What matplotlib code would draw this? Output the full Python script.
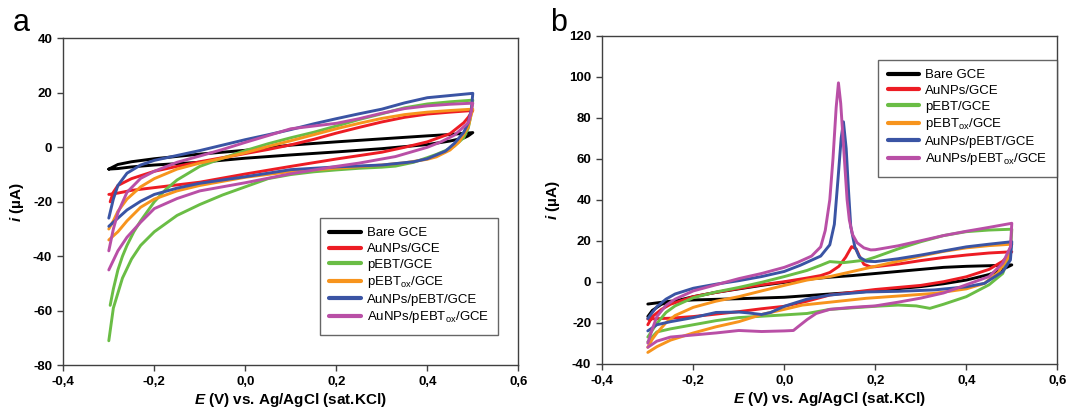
"""Cyclic voltammograms of the modified GCEs, panels a and b."""

import matplotlib.pyplot as plt
from matplotlib.ticker import FuncFormatter, MultipleLocator

plt.rcParams.update({
    "font.family": "Liberation Sans",
    "mathtext.fontset": "custom",
    "mathtext.rm": "Liberation Sans",
    "mathtext.it": "Liberation Sans:italic:bold",
    "mathtext.bf": "Liberation Sans:bold",
    "axes.linewidth": 1.0,
    "axes.edgecolor": "#404040",
})

BLACK, RED, GREEN, ORANGE, BLUE, MAGENTA = (
    "#000000", "#ED1C24", "#6ABD45", "#F7941D", "#3A54A4", "#B94FA6")

LABELS = ["Bare GCE", "AuNPs/GCE", "pEBT/GCE",
          "pEBT$_{\\mathregular{ox}}$/GCE", "AuNPs/pEBT/GCE",
          "AuNPs/pEBT$_{\\mathregular{ox}}$/GCE"]
COLORS = [BLACK, RED, GREEN, ORANGE, BLUE, MAGENTA]

# ---- panel a: forward scan (-0.3 -> 0.5 V) then reverse scan, E in V, i in uA
a_bare_E = [-0.3, -0.28, -0.25, -0.2, -0.1, 0, 0.1, 0.2, 0.3, 0.4, 0.45, 0.5,
            0.49, 0.48, 0.45, 0.4, 0.3, 0.2, 0.1, 0, -0.1, -0.2, -0.25, -0.28, -0.3]
a_bare_i = [-8.0, -6.3, -5.3, -4.2, -2.5, -1.1, 0.8, 2.0, 3.1, 4.2, 4.7, 5.4,
            4.2, 3.4, 2.3, 1.0, -0.5, -1.7, -2.8, -4.0, -5.5, -6.5, -7.2, -7.8, -8.0]

a_aunp_E = [-0.297, -0.29, -0.28, -0.25, -0.2, -0.15, -0.1, -0.05, 0, 0.05, 0.1,
            0.15, 0.2, 0.25, 0.3, 0.35, 0.4, 0.45, 0.5,
            0.49, 0.48, 0.45, 0.4, 0.35, 0.3, 0.2, 0.1, 0, -0.1, -0.2, -0.25,
            -0.28, -0.3]
a_aunp_i = [-20.0, -16.5, -14.0, -11.5, -8.8, -7.0, -5.3, -3.8, -2.3, -0.8, 0.9,
            2.9, 5.2, 7.3, 9.3, 11.0, 12.2, 12.9, 13.5,
            11.0, 9.0, 5.0, 2.0, 0.0, -1.8, -4.3, -7.0, -9.8, -12.8, -14.8, -15.8,
            -16.8, -17.3]

a_pebt_E = [-0.297, -0.29, -0.28, -0.27, -0.26, -0.245, -0.23, -0.2, -0.175,
            -0.15, -0.1, -0.05, 0, 0.05, 0.1, 0.15, 0.2, 0.25, 0.3, 0.35, 0.4,
            0.45, 0.5,
            0.495, 0.49, 0.48, 0.46, 0.44, 0.42, 0.4, 0.37, 0.33, 0.3, 0.25, 0.2,
            0.15, 0.1, 0.05, 0, -0.05, -0.1, -0.15, -0.2, -0.23, -0.25, -0.27,
            -0.29, -0.3]
a_pebt_i = [-58, -52, -45, -40, -36, -31, -27, -20, -15.5,
            -12, -7, -4, -1.2, 1.3, 3.5, 5.5, 7.8, 10.2, 12.3, 14.5, 15.9,
            16.7, 17.3,
            11, 7, 3.5, 0.5, -1.2, -2.6, -3.8, -5.5, -6.9, -7.3, -7.7, -8.3,
            -9.0, -10.0, -11.5, -14.5, -17.5, -21, -25, -31, -36, -41, -48,
            -59, -71]

a_pebtox_E = [-0.3, -0.29, -0.28, -0.26, -0.23, -0.2, -0.15, -0.1, -0.05, 0,
              0.05, 0.1, 0.15, 0.2, 0.25, 0.3, 0.35, 0.4, 0.45, 0.5,
              0.495, 0.49, 0.47, 0.45, 0.42, 0.4, 0.35, 0.3, 0.2, 0.1, 0, -0.05,
              -0.1, -0.15, -0.2, -0.23, -0.26, -0.28, -0.3]
a_pebtox_i = [-30, -27, -23.5, -19, -14.5, -11.5, -8, -5.8, -4, -2,
              0.3, 2.4, 4.6, 6.8, 8.8, 10.6, 12.0, 12.9, 13.5, 14.0,
              11, 7.5, 2.0, -1.0, -3.5, -4.4, -5.7, -6.5, -7.7, -8.9, -11.0, -12.5,
              -14.0, -16.0, -19.0, -22.0, -27.0, -31.0, -34.0]

a_aupebt_E = [-0.3, -0.29, -0.28, -0.26, -0.23, -0.2, -0.15, -0.1, -0.05, 0,
              0.05, 0.1, 0.15, 0.2, 0.25, 0.3, 0.35, 0.4, 0.45, 0.5,
              0.497, 0.49, 0.48, 0.46, 0.44, 0.4, 0.37, 0.3, 0.2, 0.1, 0, -0.05,
              -0.1, -0.15, -0.2, -0.23, -0.26, -0.28, -0.3]
a_aupebt_i = [-26, -19, -14, -9.5, -6.5, -4.8, -3, -1.2, 0.8, 2.8,
              4.6, 6.5, 8.6, 10.5, 12.3, 14.0, 16.3, 18.2, 19.0, 19.8,
              14, 9, 5.5, 1.5, -1.4, -4.2, -5.3, -6.5, -7.2, -8.2, -10.8, -12.0,
              -13.2, -15.0, -17.3, -19.8, -23.0, -26.0, -29.0]

a_aupebtox_E = [-0.3, -0.29, -0.28, -0.26, -0.23, -0.2, -0.15, -0.1, -0.05, 0,
                0.05, 0.1, 0.15, 0.2, 0.25, 0.3, 0.35, 0.4, 0.45, 0.5,
                0.495, 0.49, 0.46, 0.43, 0.4, 0.33, 0.25, 0.2, 0.1, 0, -0.05,
                -0.1, -0.15, -0.2, -0.23, -0.26, -0.28, -0.3]
a_aupebtox_i = [-38, -30, -24, -16.5, -11.4, -8.8, -5.5, -3.2, -0.8, 1.8,
                4.3, 6.8, 7.8, 8.8, 10.5, 12.5, 14.2, 15.2, 15.8, 16.2,
                12, 9, 4.5, 2, 0, -3.4, -5.8, -7, -9.7, -13, -14.5,
                -16, -18.8, -22.5, -27.5, -33, -38, -45]

# ---- panel b
b_bare_E = [-0.3, -0.29, -0.27, -0.23, -0.2, -0.15, -0.1, -0.05, 0, 0.05, 0.1,
            0.15, 0.2, 0.25, 0.3, 0.35, 0.4, 0.45, 0.5,
            0.48, 0.45, 0.4, 0.35, 0.3, 0.25, 0.2, 0.1, 0, -0.1, -0.2, -0.25, -0.3]
b_bare_i = [-17, -14, -11, -8.9, -7.3, -5.2, -3.5, -1.8, -0.3, 1.2, 2.2,
            3.0, 4.0, 5.0, 6.0, 7.0, 7.5, 7.8, 8.2,
            6.0, 3.5, 0.8, -1.0, -2.4, -3.4, -4.5, -6.0, -7.6, -8.3, -8.9, -9.5, -10.9]

b_aunp_E = [-0.3, -0.29, -0.27, -0.25, -0.2, -0.15, -0.1, -0.05, 0, 0.05, 0.08,
            0.1, 0.12, 0.135, 0.148, 0.158, 0.165, 0.175, 0.19, 0.2, 0.25, 0.3,
            0.35, 0.4, 0.45, 0.5,
            0.48, 0.45, 0.4, 0.35, 0.3, 0.2, 0.1, 0.05, 0, -0.05, -0.1, -0.15,
            -0.2, -0.25, -0.3]
b_aunp_i = [-21, -17, -13.5, -11, -7.3, -5.2, -3.3, -1.5, 0, 1.8, 3.0,
            4.5, 7.5, 12, 17.1, 16, 12.5, 8.5, 7.2, 7.3, 8.6, 10.3,
            11.8, 13, 14, 14.6,
            10, 6, 2.4, 0, -1.8, -3.8, -6.5, -9.5, -12.0, -13.2, -14.6, -15.8,
            -17.0, -17.8, -18.2]

b_pebt_E = [-0.3, -0.28, -0.26, -0.24, -0.2, -0.15, -0.1, -0.05, 0, 0.05, 0.08,
            0.1, 0.13, 0.15, 0.18, 0.2, 0.25, 0.3, 0.35, 0.4, 0.45, 0.5,
            0.497, 0.48, 0.45, 0.4, 0.35, 0.32, 0.29, 0.25, 0.2, 0.1, 0.05, 0,
            -0.1, -0.15, -0.2, -0.25, -0.28, -0.3]
b_pebt_i = [-27, -20.3, -15, -11.8, -7.8, -5.0, -2.8, -0.3, 2.5, 5.5, 8.0,
            9.8, 9.3, 9.8, 10.6, 12, 16, 19.5, 22.5, 24.4, 25.2, 25.6,
            13.8, 4, -1.5, -7.3, -11, -13, -11.8, -11.4, -12, -13.5, -15.5, -16.2,
            -17.5, -19, -21, -23, -24.5, -29.3]

b_pebtox_E = [-0.3, -0.29, -0.28, -0.26, -0.24, -0.2, -0.15, -0.1, -0.05, 0,
              0.05, 0.1, 0.15, 0.2, 0.25, 0.3, 0.35, 0.4, 0.45, 0.5,
              0.49, 0.47, 0.44, 0.4, 0.33, 0.25, 0.18, 0.1, 0.04, 0, -0.05, -0.1,
              -0.15, -0.2, -0.25, -0.28, -0.3]
b_pebtox_i = [-32, -28, -25, -20, -16.5, -12.5, -9.5, -7.3, -4.5, -1.8,
              0.8, 2.5, 5, 7.5, 10, 12.5, 14.8, 16.5, 17.6, 18.3,
              11, 4.5, -0.8, -3.5, -5.7, -7, -8.1, -10, -11.4, -13.5, -16, -19.5,
              -22, -25, -28.5, -31.7, -34.5]

b_aupebt_E = [-0.3, -0.29, -0.28, -0.26, -0.24, -0.2, -0.15, -0.1, -0.05, 0,
              0.035, 0.06, 0.08, 0.1, 0.11, 0.118, 0.125, 0.13, 0.136, 0.141,
              0.146, 0.155, 0.165, 0.18, 0.2, 0.25, 0.3, 0.35, 0.4, 0.45, 0.5,
              0.497, 0.48, 0.44, 0.4, 0.33, 0.25, 0.18, 0.1, 0.05, 0, -0.03,
              -0.05, -0.08, -0.1, -0.15, -0.2, -0.25, -0.28, -0.3]
b_aupebt_i = [-18, -15, -12.2, -8.5, -6, -3.2, -1.2, 0.5, 2.5, 5,
              8, 10.5, 12.5, 18, 28, 50, 70, 78, 65, 45,
              27, 17, 12, 10, 9.8, 11.2, 13, 15, 17, 18.3, 19.5,
              10.6, 4.9, -0.8, -2.5, -4, -4.7, -5, -6.5, -8.5, -12, -15,
              -16, -15.2, -14.8, -15, -17.5, -19.5, -21, -24]

b_aupebtox_E = [-0.3, -0.29, -0.28, -0.26, -0.24, -0.2, -0.15, -0.1, -0.05, 0,
                0.03, 0.06, 0.08, 0.09, 0.1, 0.107, 0.114, 0.119, 0.124, 0.132,
                0.138, 0.143, 0.15, 0.16, 0.175, 0.19, 0.2, 0.25, 0.3, 0.35,
                0.4, 0.45, 0.5,
                0.497, 0.48, 0.45, 0.4, 0.35, 0.3, 0.25, 0.2, 0.15, 0.1, 0.07,
                0.05, 0.03, 0.02, 0, -0.05, -0.1, -0.15, -0.2, -0.25, -0.28, -0.3]
b_aupebtox_i = [-30, -23, -17, -11.5, -8.5, -4.5, -1.5, 1.5, 4, 7,
                9.5, 12.5, 17, 25, 40, 60, 85, 97, 87, 60,
                40, 30, 23, 19, 16.5, 15.5, 15.6, 17.5, 20, 22.5,
                24.6, 26.5, 28.5,
                17, 9, 2.5, -1.5, -5.5, -8, -10, -11.8, -12.5, -13.5, -15.5,
                -18.5, -22, -23.8, -24, -24.3, -23.8, -25, -26, -27, -29, -32]

PANEL_A = [(a_bare_E, a_bare_i), (a_aunp_E, a_aunp_i), (a_pebt_E, a_pebt_i),
           (a_pebtox_E, a_pebtox_i), (a_aupebt_E, a_aupebt_i),
           (a_aupebtox_E, a_aupebtox_i)]
PANEL_B = [(b_bare_E, b_bare_i), (b_aunp_E, b_aunp_i), (b_pebt_E, b_pebt_i),
           (b_pebtox_E, b_pebtox_i), (b_aupebt_E, b_aupebt_i),
           (b_aupebtox_E, b_aupebtox_i)]


def comma(v, _pos):
    return f"{v:.1f}".replace(".", ",")


def draw(ax, curves, ylim, legend_anchor, tag, tag_x):
    for (E, i), c, lab in zip(curves, COLORS, LABELS):
        ax.plot(E, i, color=c, lw=2.1, label=lab, solid_joinstyle="round",
                solid_capstyle="round")
    ax.set_xlim(-0.4, 0.6)
    ax.set_ylim(*ylim)
    ax.xaxis.set_major_locator(MultipleLocator(0.2))
    ax.yaxis.set_major_locator(MultipleLocator(20))
    ax.xaxis.set_major_formatter(FuncFormatter(comma))
    ax.yaxis.set_major_formatter(FuncFormatter(lambda v, p: f"{v:.0f}"))
    ax.tick_params(direction="out", length=4, width=1, color="#404040",
                   labelsize=9.5, pad=4, top=False, right=False)
    for t in ax.get_xticklabels() + ax.get_yticklabels():
        t.set_fontweight("bold")
    ax.set_xlabel("$\\mathit{E}$ (V) vs. Ag/AgCl (sat.KCl)", fontsize=11,
                  fontweight="bold", labelpad=2)
    ax.set_ylabel("$\\mathit{i}$ (\u00b5A)", fontsize=11, fontweight="bold",
                  labelpad=5)
    leg = ax.legend(loc="upper left", bbox_to_anchor=legend_anchor, fontsize=9.5,
                    frameon=True, fancybox=False, edgecolor="#404040",
                    handlelength=2.4, handletextpad=0.45, labelspacing=0.26,
                    borderpad=0.7, borderaxespad=0)
    leg.get_frame().set_linewidth(1.0)
    for h in leg.get_lines():
        h.set_linewidth(3)
    ax.figure.text(tag_x, 0.945, tag, fontsize=22, ha="left", va="center")


fig = plt.figure(figsize=(10.67, 4.12), dpi=100)
ax_a = fig.add_axes([63.3 / 1067, 1 - 365.3 / 412, 455 / 1067, 327 / 412])
ax_b = fig.add_axes([602.3 / 1067, 1 - 363.7 / 412, 455 / 1067, 328 / 412])
draw(ax_a, PANEL_A, (-80, 40), (0.564, 0.4505), "a", 0.012)
draw(ax_b, PANEL_B, (-40, 120), (0.6066, 0.926), "b", 0.516)
fig.savefig("out.png", dpi=100)
